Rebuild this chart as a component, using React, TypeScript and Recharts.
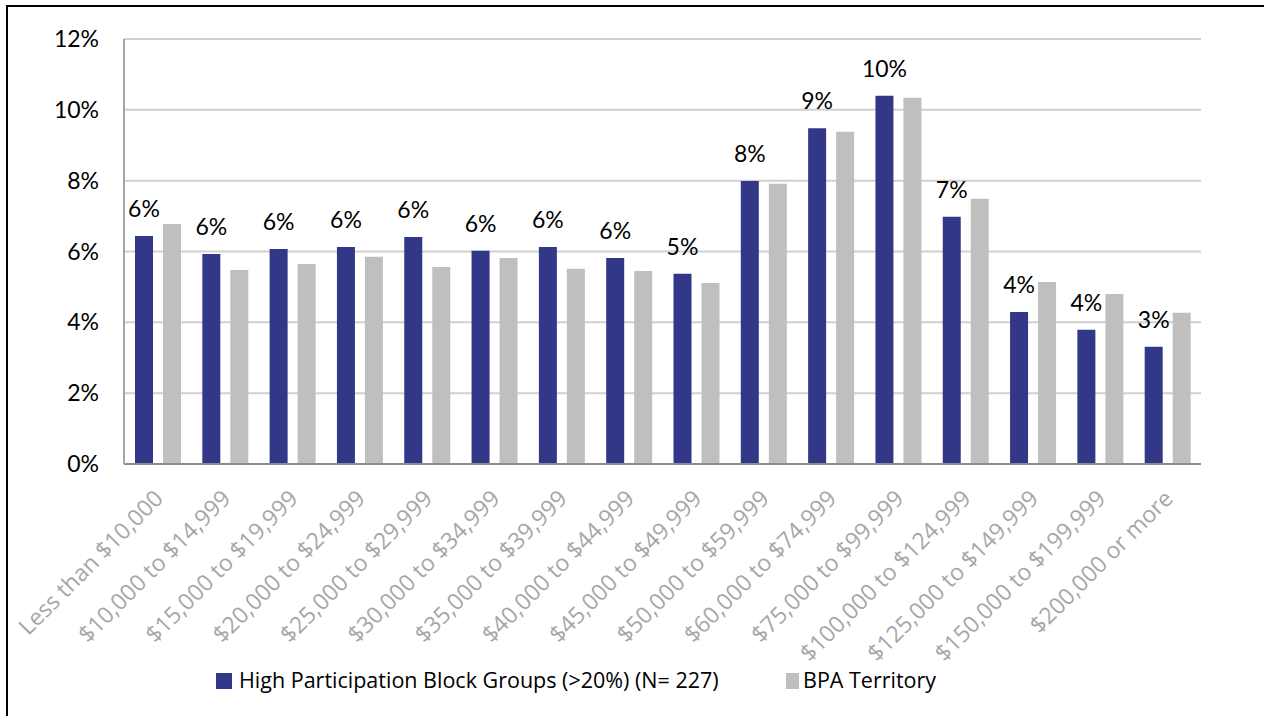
import React from "react";
import { BarChart, Bar, XAxis, YAxis, CartesianGrid, Legend, LabelList } from "recharts";

const categories = [
  "Less than $10,000",
  "$10,000 to $14,999",
  "$15,000 to $19,999",
  "$20,000 to $24,999",
  "$25,000 to $29,999",
  "$30,000 to $34,999",
  "$35,000 to $39,999",
  "$40,000 to $44,999",
  "$45,000 to $49,999",
  "$50,000 to $59,999",
  "$60,000 to $74,999",
  "$75,000 to $99,999",
  "$100,000 to $124,999",
  "$125,000 to $149,999",
  "$150,000 to $199,999",
  "$200,000 or more",
];
const highParticipation = [6.44, 5.93, 6.07, 6.13, 6.41, 6.02, 6.13, 5.82, 5.37, 7.99, 9.48, 10.4, 6.98, 4.29, 3.79, 3.31];
const bpaTerritory = [6.78, 5.48, 5.65, 5.85, 5.56, 5.82, 5.51, 5.45, 5.11, 7.91, 9.38, 10.34, 7.49, 5.14, 4.8, 4.27];
const yTicks = [0, 2, 4, 6, 8, 10, 12];
const seriesNames = ["High Participation Block Groups (>20%) (N= 227)", "BPA Territory"];

const data = categories.map((c, i) => ({ name: c, hp: highParticipation[i], bpa: bpaTerritory[i] }));

const FONT = "Lato, 'Open Sans', sans-serif";
const TEXT_FONT = "'Open Sans', Lato, sans-serif";
const BLUE = "#333787";
const GRAY = "#bfbfbf";

const XTick = (props: any) => {
  const { x, y, payload } = props;
  return (
    <g transform={`translate(${x + 7},${y + 28})`}>
      <text textAnchor="end" transform="rotate(-45)" fill="#a6a6a6" fontSize={23} fontFamily={TEXT_FONT}>
        {payload.value}
      </text>
    </g>
  );
};

const TopLabel = (props: any) => {
  const { x, y, width, value } = props;
  return (
    <text x={x + width / 2} y={y - 19} textAnchor="middle" fill="#000" fontSize={23} fontFamily={FONT}>
      {`${Math.round(value)}%`}
    </text>
  );
};

const LegendContent = () => (
  <div style={{ position: "relative", width: 1264, height: 40, fontFamily: TEXT_FONT, fontSize: 21.5, color: "#000" }}>
    <div style={{ position: "absolute", left: 216, top: 15, width: 16, height: 16, background: BLUE }} />
    <div style={{ position: "absolute", left: 239, top: 8, lineHeight: "28px", whiteSpace: "nowrap" }}>{seriesNames[0]}</div>
    <div style={{ position: "absolute", left: 786, top: 15, width: 13, height: 16, background: GRAY }} />
    <div style={{ position: "absolute", left: 803, top: 8, lineHeight: "28px", whiteSpace: "nowrap" }}>{seriesNames[1]}</div>
  </div>
);

export default function App() {
  return (
    <div style={{ position: "relative", width: 1264, height: 716, overflow: "hidden", background: "#fff" }}>
      <style>{`body{margin:0;}`}</style>
      <div
        style={{
          position: "absolute",
          left: 6,
          top: 5,
          width: 1400,
          height: 900,
          borderLeft: "2px solid #000",
          borderTop: "2px solid #000",
        }}
      />
      <div style={{ position: "absolute", left: 0, top: 0 }}>
        <BarChart
          width={1264}
          height={716}
          data={data}
          margin={{ top: 39, right: 63, left: 64, bottom: 18 }}
          barSize={18}
          barGap={10}
        >
          <CartesianGrid vertical={false} stroke="#d0d0d0" strokeWidth={2} />
          <XAxis
            dataKey="name"
            interval={0}
            height={194}
            tick={<XTick />}
            tickLine={false}
            axisLine={{ stroke: "#8c8c8c", strokeWidth: 2 }}
          />
          <YAxis
            width={60}
            domain={[0, 12]}
            ticks={yTicks}
            tickFormatter={(v: number) => `${v}%`}
            tickLine={false}
            tickSize={6}
            tickMargin={19}
            axisLine={{ stroke: "#a6a6a6", strokeWidth: 2 }}
            tick={{ fill: "#000", fontSize: 23, fontFamily: FONT }}
          />
          <Legend verticalAlign="bottom" height={40} content={<LegendContent />} wrapperStyle={{ left: 0, width: 1264 }} />
          <Bar dataKey="hp" name={seriesNames[0]} fill={BLUE} isAnimationActive={false}>
            <LabelList dataKey="hp" content={<TopLabel />} />
          </Bar>
          <Bar dataKey="bpa" name={seriesNames[1]} fill={GRAY} isAnimationActive={false} />
        </BarChart>
      </div>
    </div>
  );
}
